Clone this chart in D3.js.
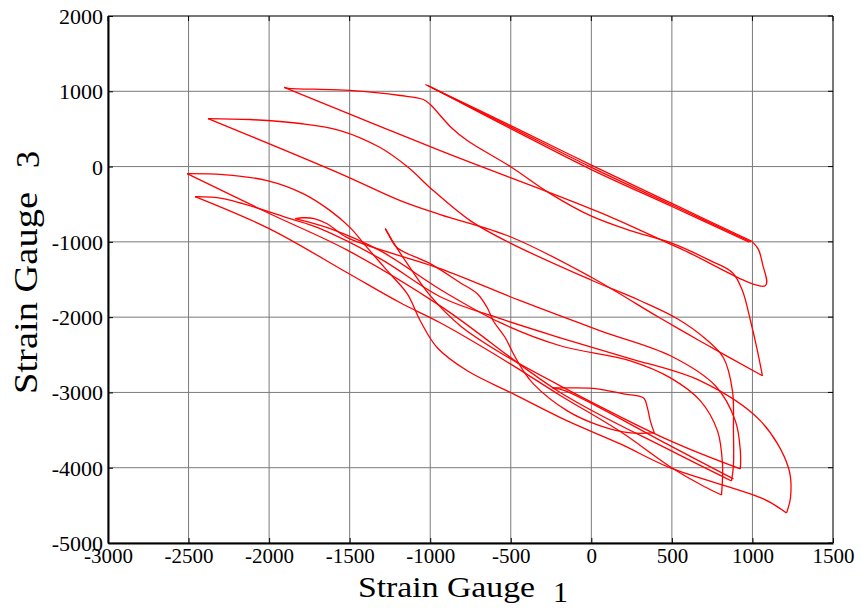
<!DOCTYPE html>
<html>
<head>
<meta charset="utf-8">
<script src="https://cdn.jsdelivr.net/npm/d3@7/dist/d3.min.js"></script>
<style>
  html, body { margin: 0; padding: 0; background: #fff; }
  svg { display: block; }
  text { font-family: 'Liberation Serif', 'Times New Roman', serif; fill: #000; }
</style>
</head>
<body>
<svg id="chart" width="862" height="608"></svg>
<script>
// ---- Axis ticks ----
const xTicks = [-3000, -2500, -2000, -1500, -1000, -500, 0, 500, 1000, 1500];
const yTicks = [-5000, -4000, -3000, -2000, -1000, 0, 1000, 2000];
const xLabel = "Strain Gauge";
const xLabelIndex = "1";
const yLabel = "Strain Gauge";
const yLabelIndex = "3";

// ---- Traces (Strain Gauge 1, Strain Gauge 3) ----
const elastic1 = [[-1030, 1090], [-500, 545], [0, 20], [500, -490], [1000, -995]];
const elastic2 = [[-1015, 1075], [-500, 525], [0, -10], [500, -510], [990, -1000]];
const elastic3 = [[-1000, 1060], [-500, 505], [0, -40], [500, -530], [980, -1005]];
const returnA = [[1000, -1000], [1037, -1100], [1062, -1290], [1081, -1580], [553, -1090], [56, -612], [-938, 213], [-1907, 1051]];
const loadB = [[-1907, 1051], [-1880, 1040], [-1500, 1011], [-1186, 944], [-1043, 891], [-1000, 824], [-870, 520], [-770, 346], [-503, 0], [-255, -359], [-6, -652], [242, -851], [491, -1011], [739, -1250], [876, -1410], [938, -1649], [988, -2048], [1031, -2447], [1062, -2779]];
const returnC = [[1062, -2779], [677, -2320], [429, -2015], [-6, -1463], [-503, -932], [-938, -638], [-1186, -452], [-1559, -93], [-2379, 638]];
const loadD = [[-2379, 638], [-2118, 625], [-1807, 572], [-1559, 479], [-1311, 253], [-1143, 0], [-981, -319], [-752, -718], [-503, -1017], [-6, -1503], [304, -1782], [534, -2021], [708, -2287], [820, -2540], [876, -2979], [882, -3511], [882, -3976], [870, -4176]];
const returnE = [[870, -4176], [491, -3770], [-193, -3000], [-938, -1850], [-1515, -1110], [-2012, -610], [-2509, -93]];
const sCurveF = [[-2509, -93], [-2286, -106], [-2012, -186], [-1789, -359], [-1621, -585], [-1497, -811], [-1391, -1077], [-1267, -1383], [-1143, -1689], [-1062, -2048], [-956, -2407], [-770, -2713], [-484, -3019], [-149, -3378], [180, -3684], [491, -4003], [1068, -4415], [1211, -4601]];
const loadH = [[1211, -4601], [1236, -4402], [1224, -4003], [1050, -3378], [677, -2846], [224, -2540], [-193, -2274], [-565, -2021], [-925, -1742], [-1311, -1223], [-1683, -824], [-1870, -691], [-2286, -425], [-2460, -399]];
const lineG = [[-2460, -399], [-1994, -830], [-1515, -1410], [-1186, -1809], [-938, -2075], [-503, -2620], [-193, -3040], [180, -3520], [491, -3990], [700, -4250], [808, -4362]];
const curveI = [[808, -4362], [814, -3950], [783, -3511], [677, -3112], [491, -2806], [242, -2580], [-193, -2380], [-565, -2074], [-925, -1649], [-1311, -1117], [-1621, -824], [-1838, -691]];
const curveJ = [[-1838, -691], [-1790, -680], [-1720, -690], [-1640, -760], [-1515, -944], [-938, -1356], [-441, -1782], [56, -2181], [491, -2513], [770, -2912], [894, -3378], [925, -3777], [925, -4016]];
const returnK = [[925, -4016], [491, -3644], [-193, -2912], [-565, -2473], [-814, -2114], [-1000, -1715], [-1155, -1250], [-1236, -984], [-1279, -824]];
const sCurveL = [[-1279, -824], [-1261, -891], [-1205, -1077], [-1000, -1290], [-814, -1543], [-708, -1689], [-646, -1875], [-609, -2048], [-534, -2274], [-484, -2487], [-422, -2713], [-360, -2886], [-149, -3245], [56, -3444], [242, -3537], [391, -3537]];
const returnM = [[391, -3537], [366, -3378], [348, -3205], [323, -3072], [199, -3019], [37, -2952], [-130, -2939], [-242, -2939]];
const lineN = [[-242, -2939], [-161, -2979], [491, -3710], [882, -4149]];

const traces = [elastic1, elastic2, elastic3, returnA, loadB, returnC, loadD, returnE,
                sCurveF, loadH, lineG, curveI, curveJ, returnK, sCurveL, returnM, lineN];

// ---- Layout ----
const svg = d3.select("#chart");
const margin = { left: 108, right: 29, top: 16, bottom: 65 };
const W = 862, H = 608;
const x = d3.scaleLinear().domain([-3000, 1500]).range([margin.left, W - margin.right]);
const y = d3.scaleLinear().domain([-5000, 2000]).range([H - margin.bottom, margin.top]);

const x0 = x.range()[0], x1 = x.range()[1];
const y0 = y.range()[0], y1 = y.range()[1];

// grid
const grid = svg.append("g");
grid.selectAll("line.gx").data(xTicks).join("line")
  .attr("x1", d => x(d)).attr("x2", d => x(d))
  .attr("y1", y1).attr("y2", y0)
  .attr("stroke", "#7a7a7a").attr("stroke-width", 1);
grid.selectAll("line.gy").data(yTicks).join("line")
  .attr("x1", x0).attr("x2", x1)
  .attr("y1", d => y(d)).attr("y2", d => y(d))
  .attr("stroke", "#7a7a7a").attr("stroke-width", 1);

// data
const line = d3.line().x(d => x(d[0])).y(d => y(d[1])).curve(d3.curveCatmullRom.alpha(0.5));
svg.append("g").selectAll("path").data(traces).join("path")
  .attr("d", line)
  .attr("fill", "none")
  .attr("stroke", "#ff0000")
  .attr("stroke-width", 1.3)
  .attr("stroke-linejoin", "round");

// axes box (top and right with inward ticks)
svg.append("line").attr("x1", x0).attr("x2", x1).attr("y1", y1).attr("y2", y1).attr("stroke", "#333").attr("stroke-width", 1);
svg.append("line").attr("x1", x1).attr("x2", x1).attr("y1", y1).attr("y2", y0).attr("stroke", "#333").attr("stroke-width", 1);
svg.append("g").selectAll("line").data(xTicks).join("line")
  .attr("x1", d => x(d)).attr("x2", d => x(d)).attr("y1", y1).attr("y2", y1 + 5).attr("stroke", "#000");
svg.append("g").selectAll("line").data(yTicks).join("line")
  .attr("x1", x1).attr("x2", x1 - 5).attr("y1", d => y(d)).attr("y2", d => y(d)).attr("stroke", "#000");

const fmt = d => String(d);
const xAxis = d3.axisBottom(x).tickValues(xTicks).tickFormat(fmt).tickSizeInner(-5).tickSizeOuter(0).tickPadding(8);
const gx = svg.append("g").attr("transform", `translate(0,${y0})`).call(xAxis);
gx.select(".domain").attr("stroke", "#000").attr("stroke-width", 2);
gx.selectAll(".tick line").attr("stroke", "#000");
gx.selectAll("text").attr("font-size", 21).attr("font-family", "'Liberation Serif', serif").attr("dy", "0.55em");

const yAxis = d3.axisLeft(y).tickValues(yTicks).tickFormat(fmt).tickSizeInner(-5).tickSizeOuter(0).tickPadding(5);
const gy = svg.append("g").attr("transform", `translate(${x0},0)`).call(yAxis);
gy.select(".domain").attr("stroke", "#000").attr("stroke-width", 2);
gy.selectAll(".tick line").attr("stroke", "#000");
gy.selectAll("text").attr("font-size", 22).attr("font-family", "'Liberation Serif', serif").attr("dy", "0.34em");

// axis labels
svg.append("text").attr("x", 358).attr("y", 597).attr("font-size", 30)
  .attr("textLength", 177).attr("lengthAdjust", "spacingAndGlyphs").text(xLabel);
svg.append("text").attr("x", 553).attr("y", 602).attr("font-size", 30).text(xLabelIndex);

svg.append("text").attr("transform", "translate(37,394) rotate(-90)").attr("font-size", 34)
  .attr("textLength", 202).attr("lengthAdjust", "spacingAndGlyphs").text(yLabel);
svg.append("text").attr("transform", "translate(39,168) rotate(-90)").attr("font-size", 34).text(yLabelIndex);
</script>
</body>
</html>
